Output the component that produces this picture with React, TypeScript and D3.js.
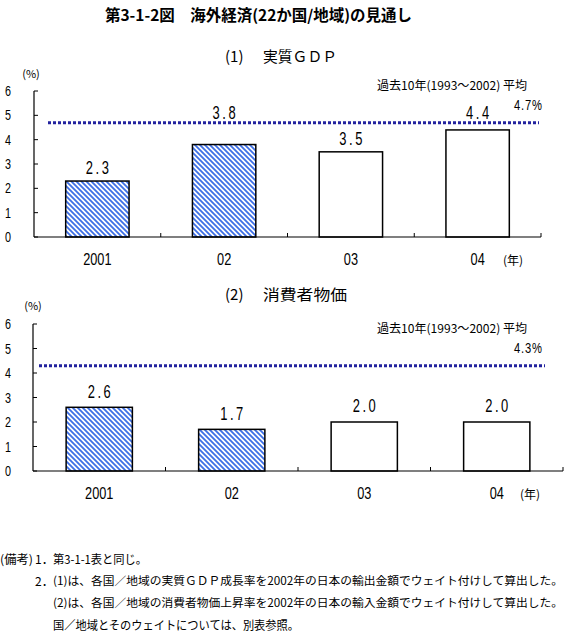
import React from "react";
import * as d3 from "d3";

const categories = ["2001", "02", "03", "04"];
const gdpValues = [2.3, 3.8, 3.5, 4.4];
const cpiValues = [2.6, 1.7, 2.0, 2.0];
const actualFlags = [true, true, false, false];
const gdpAverage = 4.7;
const cpiAverage = 4.3;
const yTicks = [0, 1, 2, 3, 4, 5, 6];
const averageLabel = "過去10年(1993～2002) 平均";

const JP = "'Noto Sans CJK JP', 'Noto Sans', sans-serif";

type PanelProps = {
  num: string;
  title: string;
  values: number[];
  average: number;
  x0: number;
  x1: number;
  yTop: number;
  yBottom: number;
  dotX0: number;
  dotX1: number;
  titleY: number;
  titleLen: number;
  labelOffset: number;
  yearX: number;
  pctLabelX: number;
  pctLabelY: number;
};

function Narrow(props: {
  x: number;
  y: number;
  sx: number;
  size: number;
  family: string;
  anchor?: string;
  spacing?: number;
  children: React.ReactNode;
}) {
  const sp = props.spacing || 0;
  const shift = props.anchor === "end" ? sp * props.sx : (sp * props.sx) / 2;
  return (
    <text
      transform={`translate(${props.x + shift},${props.y}) scale(${props.sx},1)`}
      textAnchor={props.anchor || "middle"}
      dominantBaseline="central"
      fontFamily={props.family}
      fontSize={props.size}
      letterSpacing={sp}
      fill="#000"
    >
      {props.children}
    </text>
  );
}

function Panel(p: PanelProps) {
  const x = d3
    .scaleBand<string>()
    .domain(categories)
    .range([p.x0, p.x1])
    .paddingInner(0.5)
    .paddingOuter(0.25);
  const band = d3.scaleBand<string>().domain(categories).range([p.x0, p.x1]);
  const y = d3.scaleLinear().domain([0, 6]).range([p.yBottom, p.yTop]);
  const lineY = y(p.average);
  return (
    <g>
      <text x={225} y={p.titleY} dominantBaseline="central" fontFamily={JP} fontSize={15}>
        {p.num}
      </text>
      <text
        x={263}
        y={p.titleY}
        dominantBaseline="central"
        fontFamily={JP}
        fontSize={15}
        textLength={p.titleLen}
        lengthAdjust="spacingAndGlyphs"
      >
        {p.title}
      </text>
      <text x={p.pctLabelX} y={p.pctLabelY} textAnchor="middle" dominantBaseline="central" fontFamily={JP} fontSize={11}>
        (%)
      </text>
      {yTicks.map((t) => (
        <g key={t}>
          <Narrow x={8} y={y(t)} sx={0.72} size={15} family="'Liberation Sans', sans-serif">
            {t}
          </Narrow>
          <line x1={p.x0} x2={p.x0 + 4} y1={y(t)} y2={y(t)} stroke="#000" strokeWidth={1} />
        </g>
      ))}
      {categories.map((c, i) => (
        <rect
          key={c}
          x={x(c)!}
          width={x.bandwidth()}
          y={y(p.values[i])}
          height={p.yBottom - y(p.values[i])}
          fill={actualFlags[i] ? "url(#hatch)" : "#fff"}
          stroke="#000"
          strokeWidth={1.5}
        />
      ))}
      <line
        x1={p.dotX0}
        x2={p.dotX1}
        y1={lineY}
        y2={lineY}
        stroke="#22229e"
        strokeWidth={3}
        strokeDasharray="3,2"
      />
      <line x1={p.x0} x2={p.x0} y1={p.yTop} y2={p.yBottom} stroke="#000" strokeWidth={1.2} />
      <line x1={p.x0} x2={p.x1} y1={p.yBottom} y2={p.yBottom} stroke="#000" strokeWidth={1.2} />
      {categories.map((c) => {
        const bx = band(c)! + band.bandwidth();
        return <line key={"t" + c} x1={bx} x2={bx} y1={p.yBottom} y2={p.yBottom - 4} stroke="#000" strokeWidth={1} />;
      })}
      {categories.map((c, i) => {
        const cx = x(c)! + x.bandwidth() / 2;
        let ly = y(p.values[i]) - p.labelOffset;
        if (Math.abs(ly - lineY) < 10) ly = lineY - 10;
        return (
          <Narrow
            key={"v" + c}
            x={cx}
            y={ly}
            sx={0.72}
            size={18}
            spacing={3.5}
            family="'Liberation Sans', sans-serif"
          >
            {p.values[i].toFixed(1)}
          </Narrow>
        );
      })}
      {categories.map((c) => (
        <Narrow
          key={"c" + c}
          x={band(c)! + band.bandwidth() / 2}
          y={p.yBottom + 22}
          sx={0.75}
          size={17}
          family="'Liberation Sans', sans-serif"
        >
          {c}
        </Narrow>
      ))}
      <text x={p.yearX} y={p.yBottom + 22} textAnchor="middle" dominantBaseline="central" fontFamily={JP} fontSize={12}>
        (年)
      </text>
      <text
        x={377}
        y={lineY - 38.6}
        dominantBaseline="central"
        fontFamily={JP}
        fontSize={12}
        textLength={150}
        lengthAdjust="spacingAndGlyphs"
      >
        {averageLabel}
      </text>
      <Narrow x={542} y={lineY - 16.6} sx={0.8} size={14} spacing={1} family="'Liberation Sans', sans-serif" anchor="end">
        {p.average.toFixed(1) + "%"}
      </Narrow>
    </g>
  );
}

export default function App() {
  return (
    <svg
      width={570}
      height={631}
      style={{ position: "absolute", left: 0, top: 0, display: "block", background: "#fff" }}
    >
      <defs>
        <pattern id="hatch" patternUnits="userSpaceOnUse" width={5} height={5}>
          <rect width={5} height={5} fill="#fff" />
          <path d="M0,0 L5,5 M-1,4 L1,6 M4,-1 L6,1" stroke="#3d6fe6" strokeWidth={1.8} />
        </pattern>
      </defs>
      <rect width={570} height={631} fill="#fff" />
      <text
        x={105}
        y={14}
        dominantBaseline="central"
        fontFamily={JP}
        fontSize={15.5}
        fontWeight="bold"
        textLength={307}
        lengthAdjust="spacingAndGlyphs"
      >
        第3-1-2図　海外経済(22か国/地域)の見通し
      </text>
      <Panel
        num="(1)"
        title="実質ＧＤＰ"
        values={gdpValues}
        average={gdpAverage}
        x0={34}
        x1={541}
        yTop={91}
        yBottom={237}
        dotX0={48}
        dotX1={539}
        titleY={55}
        titleLen={74}
        labelOffset={13}
        yearX={513}
        pctLabelX={31}
        pctLabelY={73}
      />
      <Panel
        num="(2)"
        title="消費者物価"
        values={cpiValues}
        average={cpiAverage}
        x0={33}
        x1={563}
        yTop={324}
        yBottom={471}
        dotX0={39}
        dotX1={545}
        titleY={293}
        titleLen={84}
        labelOffset={16}
        yearX={530}
        pctLabelX={33}
        pctLabelY={305}
      />
      <g fontFamily={JP} fontSize={12} dominantBaseline="central">
        <text x={0} y={558} textLength={33} lengthAdjust="spacingAndGlyphs">(備考)</text>
        <text x={35} y={558}>1．</text>
        <text x={53} y={558} textLength={94} lengthAdjust="spacingAndGlyphs">第3-1-1表と同じ。</text>
        <text x={35} y={580}>2．</text>
        <text x={53} y={580} fontSize={11.4} textLength={510} lengthAdjust="spacingAndGlyphs">
          (1)は、各国／地域の実質ＧＤＰ成長率を2002年の日本の輸出金額でウェイト付けして算出した。
        </text>
        <text x={53} y={602} fontSize={11.4} textLength={510} lengthAdjust="spacingAndGlyphs">
          (2)は、各国／地域の消費者物価上昇率を2002年の日本の輸入金額でウェイト付けして算出した。
        </text>
        <text x={53} y={624} textLength={246} lengthAdjust="spacingAndGlyphs">
          国／地域とそのウェイトについては、別表参照。
        </text>
      </g>
    </svg>
  );
}
